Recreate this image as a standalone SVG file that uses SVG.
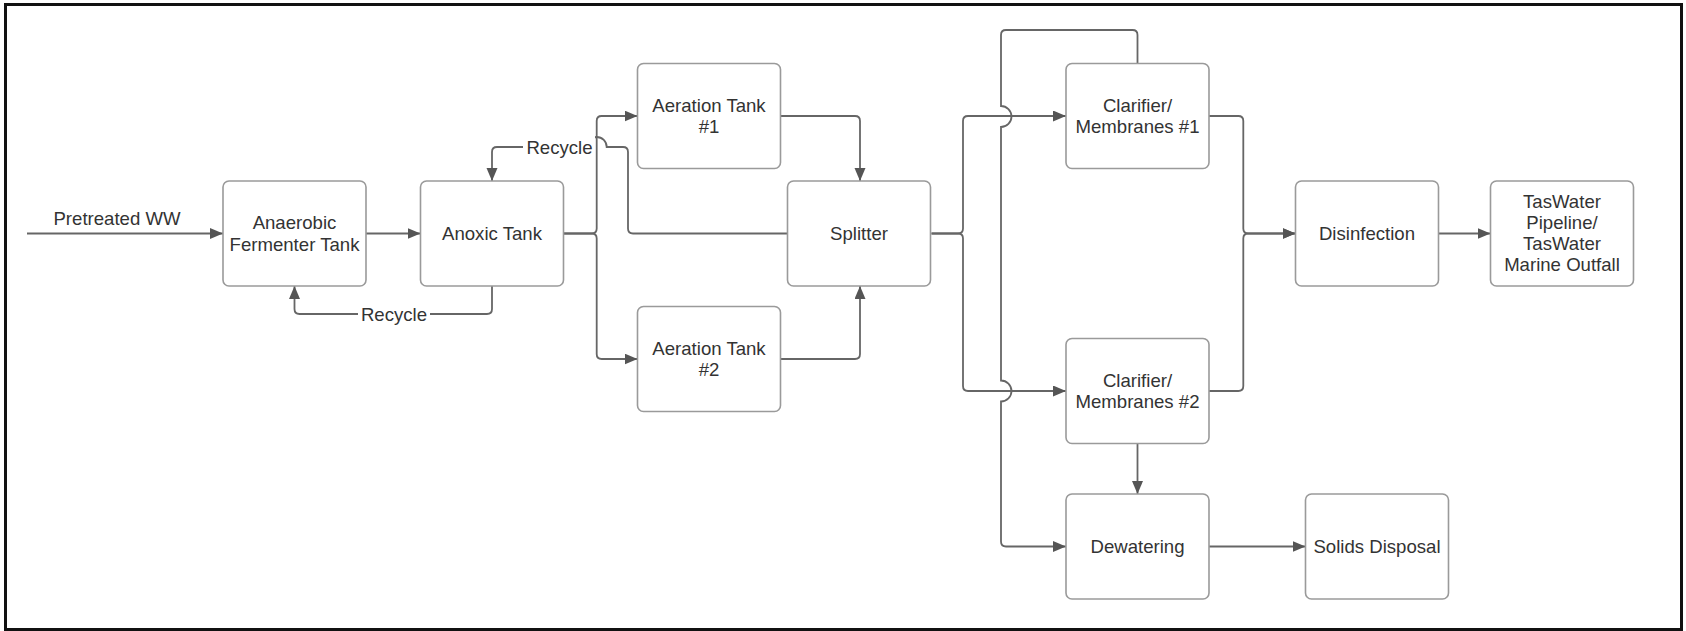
<svg xmlns="http://www.w3.org/2000/svg" width="1686" height="631" viewBox="0 0 1686 631">
<style>
.node rect{fill:#fff;stroke:#9a9a9a;stroke-width:1.6}
text{font-family:"Liberation Sans",Arial,sans-serif;font-size:18.6px;fill:#333;text-anchor:middle}
.conn path{fill:none;stroke:#666;stroke-width:1.8}
.lbl{fill:#fff;stroke:none}
</style>
<defs>
<marker id="arr" markerUnits="userSpaceOnUse" markerWidth="14" markerHeight="12" refX="13" refY="5.5" orient="auto">
<path d="M0,0 L13,5.5 L0,11 z" fill="#555"/>
</marker>
</defs>
<rect x="0" y="0" width="1686" height="631" fill="#fff"/>
<rect x="5.5" y="4.5" width="1676" height="625" fill="none" stroke="#111" stroke-width="3"/>
<g id="connectors" class="conn">
<path d="M27,233.5 H223" marker-end="url(#arr)"/>
<path d="M366,233.5 H420.5" marker-end="url(#arr)"/>
<path d="M563.5,233.5 H591.7 Q596.7,233.5 596.7,228.5 V121 Q596.7,116 601.7,116 H637.5" marker-end="url(#arr)"/>
<path d="M563.5,233.5 H591.7 Q596.7,233.5 596.7,238.5 V354 Q596.7,359 601.7,359 H637.5" marker-end="url(#arr)"/>
<path d="M780,116 H855 Q860,116 860,121 V181" marker-end="url(#arr)"/>
<path d="M780,359 H855 Q860,359 860,354 V286" marker-end="url(#arr)"/>
<path d="M931.5,233.5 H958 Q963,233.5 963,228.5 V121 Q963,116 968,116 H1066" marker-end="url(#arr)"/>
<path d="M931.5,233.5 H958 Q963,233.5 963,238.5 V386 Q963,391 968,391 H1066" marker-end="url(#arr)"/>
<path d="M787.5,233.5 H633 Q628,233.5 628,228.5 V152 Q628,147 623,147 H606.7 A10,10 0 0 0 586.7,147 H497 Q492,147 492,152 V181" marker-end="url(#arr)"/>
<path d="M492,286 V309 Q492,314 487,314 H299.5 Q294.5,314 294.5,309 V286" marker-end="url(#arr)"/>
<path d="M1209,116 H1238.3 Q1243.3,116 1243.3,121 V228.5 Q1243.3,233.5 1248.3,233.5 H1295.5" marker-end="url(#arr)"/>
<path d="M1209,391 H1238.3 Q1243.3,391 1243.3,386 V238.5 Q1243.3,233.5 1248.3,233.5 H1295.5" marker-end="url(#arr)"/>
<path d="M1438.5,233.5 H1490.5" marker-end="url(#arr)"/>
<path d="M1137.5,63.5 V35 Q1137.5,30 1132.5,30 H1006 Q1001,30 1001,35 V106 A10.5,10.5 0 0 1 1001,127 V380.5 A10.5,10.5 0 0 1 1001,401.5 V541.5 Q1001,546.5 1006,546.5 H1066" marker-end="url(#arr)"/>
<path d="M1137.5,444 V494" marker-end="url(#arr)"/>
<path d="M1209,546.5 H1305.5" marker-end="url(#arr)"/>
<rect class="lbl" x="523" y="136" width="72" height="22"/>
<text x="559.5" y="153.5">Recycle</text>
<rect class="lbl" x="358" y="303" width="72" height="22"/>
<text x="394" y="320.5">Recycle</text>
<text x="117" y="224.5">Pretreated WW</text>
</g>
<g id="anaerobic" class="node"><rect x="223" y="181" width="143" height="105" rx="6"/><text x="294.5" y="229">Anaerobic</text><text x="294.5" y="251">Fermenter Tank</text></g>
<g id="anoxic" class="node"><rect x="420.5" y="181" width="143" height="105" rx="6"/><text x="492" y="240">Anoxic Tank</text></g>
<g id="aeration1" class="node"><rect x="637.5" y="63.5" width="143" height="105" rx="6"/><text x="709" y="111.5">Aeration Tank</text><text x="709" y="133">#1</text></g>
<g id="aeration2" class="node"><rect x="637.5" y="306.5" width="143" height="105" rx="6"/><text x="709" y="354.5">Aeration Tank</text><text x="709" y="376">#2</text></g>
<g id="splitter" class="node"><rect x="787.5" y="181" width="143" height="105" rx="6"/><text x="859" y="240">Splitter</text></g>
<g id="clarifier1" class="node"><rect x="1066" y="63.5" width="143" height="105" rx="6"/><text x="1137.5" y="112">Clarifier/</text><text x="1137.5" y="133">Membranes #1</text></g>
<g id="clarifier2" class="node"><rect x="1066" y="338.5" width="143" height="105" rx="6"/><text x="1137.5" y="387">Clarifier/</text><text x="1137.5" y="408">Membranes #2</text></g>
<g id="dewatering" class="node"><rect x="1066" y="494" width="143" height="105" rx="6"/><text x="1137.5" y="553">Dewatering</text></g>
<g id="solids" class="node"><rect x="1305.5" y="494" width="143" height="105" rx="6"/><text x="1377" y="553">Solids Disposal</text></g>
<g id="disinfection" class="node"><rect x="1295.5" y="181" width="143" height="105" rx="6"/><text x="1367" y="240">Disinfection</text></g>
<g id="taswater" class="node"><rect x="1490.5" y="181" width="143" height="105" rx="6"/><text x="1562" y="208">TasWater</text><text x="1562" y="229">Pipeline/</text><text x="1562" y="250">TasWater</text><text x="1562" y="271">Marine Outfall</text></g>
</svg>
